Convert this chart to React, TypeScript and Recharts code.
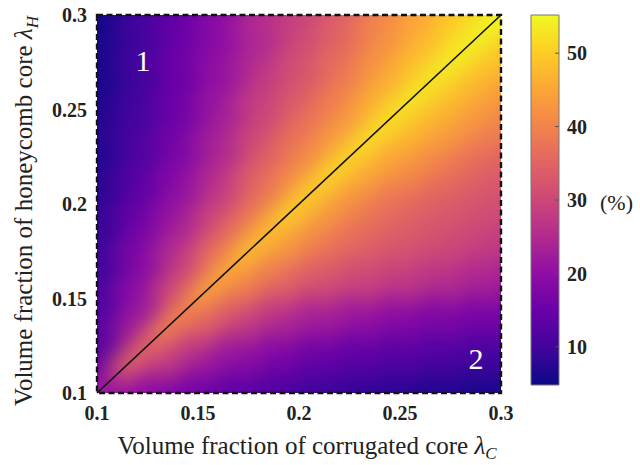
import React from 'react';
import {
  ScatterChart,
  ComposedChart,
  Scatter,
  XAxis,
  YAxis,
  ReferenceArea,
  ReferenceDot,
  ReferenceLine,
  Label
} from 'recharts';

// grid of the contour map
const lambdaC = [0.1, 0.12, 0.14, 0.16, 0.18, 0.2, 0.22, 0.24, 0.26, 0.28, 0.3];
const lambdaH = [0.1, 0.12, 0.14, 0.16, 0.18, 0.2, 0.22, 0.24, 0.26, 0.28, 0.3];
// one row per lambdaH (bottom to top), one value per lambdaC (%)
const percentRows = [
  [22, 20, 17, 14, 12, 10, 9, 8, 7, 6.5, 6],
  [13, 35, 28, 22, 19, 16, 14, 13, 12, 11, 10],
  [12, 22, 40, 34, 28, 24, 22, 20, 18, 17, 16],
  [10, 19, 30, 45, 39, 34, 31, 29, 27, 25, 23],
  [9, 17, 25, 36, 48, 42, 37, 34, 32, 30, 28],
  [8, 14, 21, 29, 38, 50, 43, 38, 35, 33, 31],
  [7, 12, 18, 25, 34, 41, 51, 45, 41, 37, 34],
  [7, 11, 16, 23, 30, 37, 43, 52, 47, 43, 39],
  [6, 10, 15, 21, 28, 33, 39, 46, 53, 48, 44],
  [6, 10, 15, 20, 25, 31, 36, 42, 48, 54, 49],
  [5, 10, 14, 19, 25, 29, 34, 40, 45, 50, 55]
];

const axisTicks = [0.1, 0.15, 0.2, 0.25, 0.3];
const colorbarTicks = [10, 20, 30, 40, 50];
const colorRange = [4.8, 55.2];
const diagonal = [
  { c: 0.1, h: 0.1 },
  { c: 0.3, h: 0.3 }
];
const regionLabels = [
  { c: 0.1228, h: 0.2762, text: '1' },
  { c: 0.2876, h: 0.1185, text: '2' }
];

const plasma = [
  '#0d0887', '#41049d', '#6a00a8', '#8f0da4', '#b12a90', '#cc4778',
  '#e16462', '#f2844b', '#fca636', '#fcce25', '#f0f921'
];

const FONT = "'Liberation Serif', 'Times New Roman', serif";
const PLOT_W = 404;
const PLOT_H = 378;
const CELL_W = PLOT_W / (lambdaC.length - 1);
const CELL_H = PLOT_H / (lambdaH.length - 1);
const MARGIN = { top: 15, right: 139, bottom: 42, left: 40 };

const hexToRgb = (hex: string) => [
  parseInt(hex.slice(1, 3), 16),
  parseInt(hex.slice(3, 5), 16),
  parseInt(hex.slice(5, 7), 16)
];

const plasmaColor = (v: number) => {
  const t = Math.min(1, Math.max(0, (v - colorRange[0]) / (colorRange[1] - colorRange[0])));
  const pos = t * (plasma.length - 1);
  const k = Math.min(plasma.length - 2, Math.floor(pos));
  const f = pos - k;
  const a = hexToRgb(plasma[k]);
  const b = hexToRgb(plasma[k + 1]);
  const rgb = a.map((ch, n) => Math.round(ch + (b[n] - ch) * f));
  return `rgb(${rgb[0]},${rgb[1]},${rgb[2]})`;
};

const heatData = percentRows.flatMap((row, j) =>
  row.map((v, i) => ({ c: lambdaC[i], h: lambdaH[j], v, i, j }))
);
const edgeData = heatData.filter(
  (d) => d.i === 0 || d.j === 0 || d.i === lambdaC.length - 1 || d.j === lambdaH.length - 1
);

// square backing cells, only used to keep the blur from fading at the frame
const EdgeCell = (props: any) => {
  const { cx, cy, payload } = props;
  let x0 = cx - CELL_W / 2;
  let x1 = cx + CELL_W / 2;
  let y0 = cy - CELL_H / 2;
  let y1 = cy + CELL_H / 2;
  if (payload.i === 0) x0 -= CELL_W;
  if (payload.i === lambdaC.length - 1) x1 += CELL_W;
  if (payload.j === 0) y1 += CELL_H;
  if (payload.j === lambdaH.length - 1) y0 -= CELL_H;
  return <rect x={x0} y={y0} width={x1 - x0} height={y1 - y0} fill={plasmaColor(payload.v)} />;
};

// diagonal brick tile around each grid point, so the ridge along the
// diagonal does not turn into a staircase
const HeatBrick = (props: any) => {
  const { cx, cy, payload } = props;
  const s = 1.03;
  const pts = [
    [0.75, 0.25],
    [0.25, 0.75],
    [-0.75, -0.25],
    [-0.25, -0.75]
  ]
    .map(([u, v]) => `${cx + u * s * CELL_W},${cy - v * s * CELL_H}`)
    .join(' ');
  return <polygon points={pts} fill={plasmaColor(payload.v)} />;
};

const tickStyle = { fontSize: 20, fontWeight: 'bold', fill: '#222', fontFamily: FONT };

const App: React.FC = () => {
  return (
    <div style={{ position: 'relative', width: 640, height: 465 }}>
      <style>{`
        body { margin: 0; }
        .heat-layer { filter: url(#heatBlur); }
        svg text { font-family: 'Liberation Serif', 'Times New Roman', serif; }
      `}</style>
      <svg width={0} height={0} style={{ position: 'absolute' }}>
        <defs>
          <filter id="heatBlur" x="-10%" y="-10%" width="120%" height="120%" colorInterpolationFilters="sRGB">
            <feGaussianBlur stdDeviation={11} />
          </filter>
          <linearGradient id="plasmaBar" x1="0" y1="1" x2="0" y2="0">
            {plasma.map((col, k) => (
              <stop key={k} offset={`${(k / (plasma.length - 1)) * 100}%`} stopColor={col} />
            ))}
          </linearGradient>
        </defs>
      </svg>

      {/* contour map with axes */}
      <div style={{ position: 'absolute', left: 0, top: 0 }}>
        <ScatterChart width={640} height={465} margin={MARGIN}>
          <XAxis
            type="number"
            dataKey="c"
            domain={[0.1, 0.3]}
            ticks={axisTicks}
            allowDataOverflow
            axisLine={false}
            tickLine={false}
            tickSize={0}
            tickMargin={13}
            height={30}
            tick={tickStyle}
          >
            <Label
              content={() => (
                <text x={307} y={454} textAnchor="middle" fontFamily={FONT} fontSize={25} fill="#222">
                  Volume fraction of corrugated core{' '}
                  <tspan fontStyle="italic">λ</tspan>
                  <tspan fontStyle="italic" fontSize={17} dy={5}>C</tspan>
                </text>
              )}
            />
          </XAxis>
          <YAxis
            type="number"
            dataKey="h"
            domain={[0.1, 0.3]}
            ticks={axisTicks}
            allowDataOverflow
            axisLine={false}
            tickLine={false}
            tickSize={0}
            tickMargin={10}
            width={57}
            tick={tickStyle}
          >
            <Label
              content={() => (
                <text
                  x={0}
                  y={0}
                  transform="translate(32, 211) rotate(-90)"
                  textAnchor="middle"
                  fontFamily={FONT}
                  fontSize={25}
                  fill="#222"
                >
                  Volume fraction of honeycomb core{' '}
                  <tspan fontStyle="italic">λ</tspan>
                  <tspan fontStyle="italic" fontSize={17} dy={6}>H</tspan>
                </text>
              )}
            />
          </YAxis>
          <Scatter
            className="heat-layer"
            data={edgeData}
            dataKey="h"
            shape={EdgeCell}
            isAnimationActive={false}
          />
          <Scatter
            className="heat-layer"
            data={heatData}
            dataKey="h"
            shape={HeatBrick}
            isAnimationActive={false}
          />
        </ScatterChart>
      </div>

      {/* overlay: frame, diagonal and region numbers on top of the map */}
      <div style={{ position: 'absolute', left: 0, top: 0 }}>
        <ScatterChart
          width={640}
          height={465}
          margin={{ top: 15, right: 139, bottom: 72, left: 97 }}
        >
          <XAxis type="number" dataKey="c" domain={[0.1, 0.3]} hide />
          <YAxis type="number" dataKey="h" domain={[0.1, 0.3]} hide />
          <Scatter
            data={diagonal}
            dataKey="h"
            line={{ stroke: '#111', strokeWidth: 1.6 }}
            lineType="joint"
            shape={() => <g />}
            isAnimationActive={false}
          />
          <ReferenceArea
            x1={0.1}
            x2={0.3}
            y1={0.1}
            y2={0.3}
            fill="none"
            stroke="#111"
            strokeWidth={2.4}
            strokeDasharray="6 3.5"
            ifOverflow="visible"
          />
          {regionLabels.map((r) => (
            <ReferenceDot
              key={r.text}
              x={r.c}
              y={r.h}
              r={0}
              fill="none"
              stroke="none"
              label={{ value: r.text, position: 'center', fill: '#fff', fontSize: 30, fontFamily: FONT }}
            />
          ))}
        </ScatterChart>
      </div>

      {/* colour bar */}
      <div style={{ position: 'absolute', left: 520, top: 0 }}>
        <ComposedChart
          width={120}
          height={465}
          data={[{ x: 0 }, { x: 1 }]}
          margin={{ top: 15, right: 0, bottom: 80, left: 11 }}
        >
          <XAxis type="number" dataKey="x" domain={[0, 1]} hide />
          <YAxis
            type="number"
            orientation="right"
            domain={colorRange}
            ticks={colorbarTicks}
            allowDataOverflow
            axisLine={false}
            tickLine={false}
            tickSize={0}
            tickMargin={8}
            width={81}
            tick={tickStyle}
          >
            <Label
              content={() => (
                <text x={80} y={210} fontFamily={FONT} fontSize={22} fill="#222">
                  (%)
                </text>
              )}
            />
          </YAxis>
          <ReferenceArea
            x1={0}
            x2={1}
            y1={colorRange[0]}
            y2={colorRange[1]}
            fill="url(#plasmaBar)"
            fillOpacity={1}
            stroke="#777"
            strokeWidth={1}
            ifOverflow="visible"
          />
          {colorbarTicks.map((t) => (
            <ReferenceLine
              key={t}
              segment={[
                { x: 0.86, y: t },
                { x: 1, y: t }
              ]}
              stroke="#555"
              strokeWidth={1}
            />
          ))}
        </ComposedChart>
      </div>
    </div>
  );
};

export default App;
